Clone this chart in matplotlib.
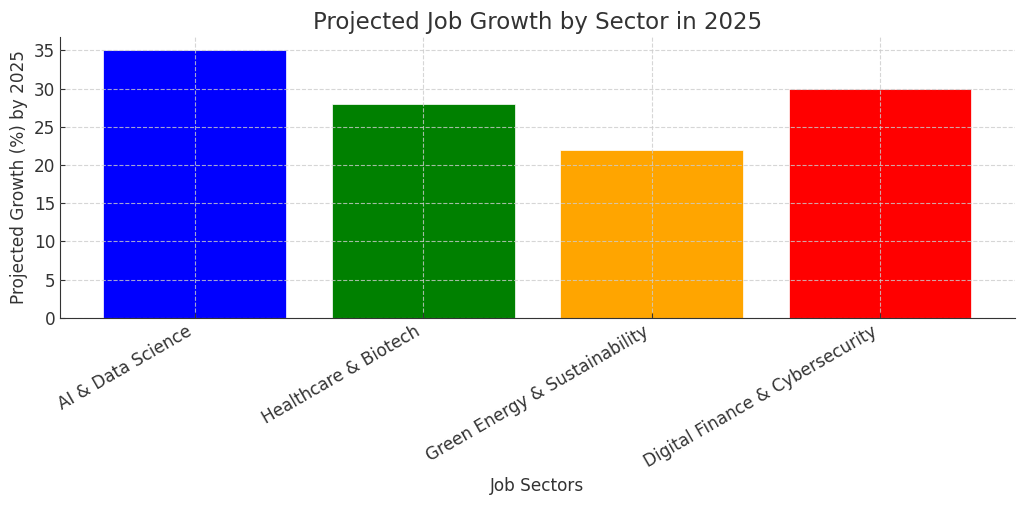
import matplotlib.pyplot as plt
import numpy as np

sectors = ['AI & Data Science', 'Healthcare & Biotech', 'Green Energy & Sustainability',
           'Digital Finance & Cybersecurity']
growth = [35, 28, 22, 30]
colors = ['blue', 'green', 'orange', 'red']

text_color = '#333333'
plt.rcParams['axes.axisbelow'] = False

fig, ax = plt.subplots(figsize=(10.24, 5.07), dpi=100)
fig.subplots_adjust(left=0.0586, right=0.991, top=0.927, bottom=0.373)

x = np.arange(len(sectors))
ax.bar(x, growth, color=colors, width=0.8, edgecolor='white', linewidth=0.5)

ax.set_title('Projected Job Growth by Sector in 2025', fontsize=16.5, color=text_color)
ax.set_xlabel('Job Sectors', fontsize=12.2, color=text_color)
ax.set_ylabel('Projected Growth (%) by 2025', fontsize=12.2, color=text_color)
ax.set_xticks(x)
ax.set_xticklabels(sectors, rotation=30, ha='right', fontsize=12.2, color=text_color)
ax.tick_params(axis='y', labelsize=12.2, labelcolor=text_color)
ax.tick_params(direction='in', color=text_color)
ax.grid(True, linestyle='--', color='#cccccc', linewidth=0.8, alpha=0.8)

ax.spines['top'].set_visible(False)
ax.spines['right'].set_visible(False)
ax.spines['left'].set_color(text_color)
ax.spines['bottom'].set_color(text_color)

fig.savefig('out.png', dpi=100)
